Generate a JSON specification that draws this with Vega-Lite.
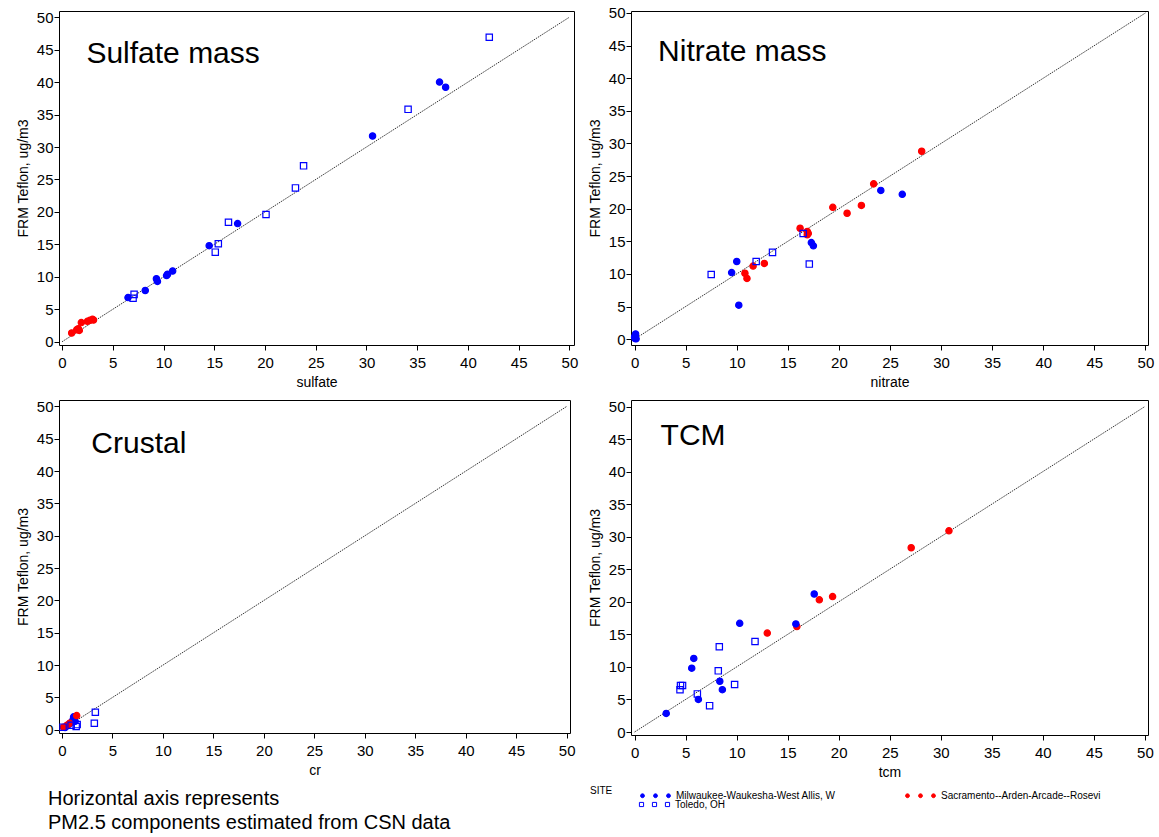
{
  "$schema": "https://vega.github.io/schema/vega-lite/v6.json",
  "background": "white",
  "padding": {"left": 15, "top": 5, "right": 4, "bottom": 2},
  "bounds": "flush",
  "columns": 2,
  "spacing": {"row": 55, "column": 57},
  "config": {
    "view": {"stroke": "black", "strokeWidth": 1},
    "font": "Liberation Sans",
    "axis": {
      "grid": false,
      "domain": false,
      "labelFont": "Liberation Sans",
      "labelFontSize": 15,
      "labelColor": "black",
      "labelFlush": false,
      "labelOverlap": false,
      "titleFont": "Liberation Sans",
      "titleFontSize": 14,
      "titleFontWeight": "normal",
      "titleColor": "black",
      "tickColor": "black",
      "tickWidth": 1,
      "values": [0,1,2,3,4,5,6,7,8,9,10,11,12,13,14,15,16,17,18,19,20,21,22,23,24,25,26,27,28,29,30,31,32,33,34,35,36,37,38,39,40,41,42,43,44,45,46,47,48,49,50],
      "labelExpr": "datum.value % 5 === 0 ? datum.label : ''",
      "tickSize": {"condition": {"test": "datum.value % 5 === 0", "value": 5}, "value": 3}
    },
    "axisX": {"labelPadding": 5, "titlePadding": 5},
    "axisY": {"labelPadding": 1, "titlePadding": 6},
    "legend": {
      "labelFont": "Liberation Sans",
      "labelFontSize": 10,
      "labelColor": "black",
      "titleFont": "Liberation Sans",
      "titleFontSize": 10,
      "titleFontWeight": "normal",
      "titleColor": "black"
    }
  },
  "datasets": {
    "sulfate": [
      {"site": "Toledo, OH", "csn": 42.1, "frm": 46.9},
      {"site": "Toledo, OH", "csn": 34.1, "frm": 35.8},
      {"site": "Toledo, OH", "csn": 23.8, "frm": 27.1},
      {"site": "Toledo, OH", "csn": 23.0, "frm": 23.7},
      {"site": "Toledo, OH", "csn": 20.1, "frm": 19.6},
      {"site": "Toledo, OH", "csn": 16.4, "frm": 18.4},
      {"site": "Toledo, OH", "csn": 15.4, "frm": 15.1},
      {"site": "Toledo, OH", "csn": 15.1, "frm": 13.8},
      {"site": "Toledo, OH", "csn": 7.1, "frm": 7.3},
      {"site": "Toledo, OH", "csn": 7.0, "frm": 6.7},
      {"site": "Milwaukee-Waukesha-West Allis, W", "csn": 37.2, "frm": 40.0},
      {"site": "Milwaukee-Waukesha-West Allis, W", "csn": 37.8, "frm": 39.2},
      {"site": "Milwaukee-Waukesha-West Allis, W", "csn": 30.6, "frm": 31.7},
      {"site": "Milwaukee-Waukesha-West Allis, W", "csn": 17.3, "frm": 18.2},
      {"site": "Milwaukee-Waukesha-West Allis, W", "csn": 14.5, "frm": 14.8},
      {"site": "Milwaukee-Waukesha-West Allis, W", "csn": 10.9, "frm": 10.9},
      {"site": "Milwaukee-Waukesha-West Allis, W", "csn": 10.4, "frm": 10.4},
      {"site": "Milwaukee-Waukesha-West Allis, W", "csn": 10.3, "frm": 10.2},
      {"site": "Milwaukee-Waukesha-West Allis, W", "csn": 9.3, "frm": 9.7},
      {"site": "Milwaukee-Waukesha-West Allis, W", "csn": 9.4, "frm": 9.3},
      {"site": "Milwaukee-Waukesha-West Allis, W", "csn": 8.2, "frm": 7.9},
      {"site": "Milwaukee-Waukesha-West Allis, W", "csn": 6.5, "frm": 6.8},
      {"site": "Sacramento--Arden-Arcade--Rosevi", "csn": 0.95, "frm": 1.35},
      {"site": "Sacramento--Arden-Arcade--Rosevi", "csn": 1.45, "frm": 1.85},
      {"site": "Sacramento--Arden-Arcade--Rosevi", "csn": 1.6, "frm": 2.0},
      {"site": "Sacramento--Arden-Arcade--Rosevi", "csn": 1.7, "frm": 1.75},
      {"site": "Sacramento--Arden-Arcade--Rosevi", "csn": 1.9, "frm": 2.95},
      {"site": "Sacramento--Arden-Arcade--Rosevi", "csn": 2.5, "frm": 3.15},
      {"site": "Sacramento--Arden-Arcade--Rosevi", "csn": 2.75, "frm": 3.3},
      {"site": "Sacramento--Arden-Arcade--Rosevi", "csn": 3.0, "frm": 3.45},
      {"site": "Sacramento--Arden-Arcade--Rosevi", "csn": 3.1, "frm": 3.35}
    ],
    "nitrate": [
      {"site": "Sacramento--Arden-Arcade--Rosevi", "csn": 28.1, "frm": 28.8},
      {"site": "Sacramento--Arden-Arcade--Rosevi", "csn": 23.4, "frm": 23.8},
      {"site": "Sacramento--Arden-Arcade--Rosevi", "csn": 19.4, "frm": 20.2},
      {"site": "Sacramento--Arden-Arcade--Rosevi", "csn": 22.2, "frm": 20.5},
      {"site": "Sacramento--Arden-Arcade--Rosevi", "csn": 20.8, "frm": 19.3},
      {"site": "Sacramento--Arden-Arcade--Rosevi", "csn": 16.2, "frm": 17.0},
      {"site": "Sacramento--Arden-Arcade--Rosevi", "csn": 16.9, "frm": 16.5},
      {"site": "Sacramento--Arden-Arcade--Rosevi", "csn": 17.0, "frm": 16.2},
      {"site": "Sacramento--Arden-Arcade--Rosevi", "csn": 16.9, "frm": 16.0},
      {"site": "Sacramento--Arden-Arcade--Rosevi", "csn": 12.7, "frm": 11.6},
      {"site": "Sacramento--Arden-Arcade--Rosevi", "csn": 11.6, "frm": 11.2},
      {"site": "Sacramento--Arden-Arcade--Rosevi", "csn": 10.8, "frm": 10.1},
      {"site": "Sacramento--Arden-Arcade--Rosevi", "csn": 11.0, "frm": 9.3},
      {"site": "Milwaukee-Waukesha-West Allis, W", "csn": 24.1, "frm": 22.8},
      {"site": "Milwaukee-Waukesha-West Allis, W", "csn": 26.2, "frm": 22.2},
      {"site": "Milwaukee-Waukesha-West Allis, W", "csn": 17.3, "frm": 14.8},
      {"site": "Milwaukee-Waukesha-West Allis, W", "csn": 17.5, "frm": 14.3},
      {"site": "Milwaukee-Waukesha-West Allis, W", "csn": 10.0, "frm": 11.9},
      {"site": "Milwaukee-Waukesha-West Allis, W", "csn": 9.5, "frm": 10.2},
      {"site": "Milwaukee-Waukesha-West Allis, W", "csn": 10.2, "frm": 5.2},
      {"site": "Milwaukee-Waukesha-West Allis, W", "csn": 0.05, "frm": 0.1},
      {"site": "Milwaukee-Waukesha-West Allis, W", "csn": 0.05, "frm": 0.5},
      {"site": "Milwaukee-Waukesha-West Allis, W", "csn": 0.1, "frm": 0.8},
      {"site": "Milwaukee-Waukesha-West Allis, W", "csn": 0.0, "frm": 0.3},
      {"site": "Milwaukee-Waukesha-West Allis, W", "csn": 0.15, "frm": 0.05},
      {"site": "Toledo, OH", "csn": 7.5, "frm": 9.9},
      {"site": "Toledo, OH", "csn": 11.9, "frm": 11.9},
      {"site": "Toledo, OH", "csn": 13.5, "frm": 13.3},
      {"site": "Toledo, OH", "csn": 16.5, "frm": 16.2},
      {"site": "Toledo, OH", "csn": 17.1, "frm": 11.5}
    ],
    "crustal": [
      {"site": "Toledo, OH", "csn": 3.3, "frm": 2.7},
      {"site": "Toledo, OH", "csn": 3.2, "frm": 1.0},
      {"site": "Toledo, OH", "csn": 1.4, "frm": 0.5},
      {"site": "Toledo, OH", "csn": 1.5, "frm": 0.8},
      {"site": "Toledo, OH", "csn": 0.1, "frm": 0.4},
      {"site": "Toledo, OH", "csn": 0.9, "frm": 0.7},
      {"site": "Milwaukee-Waukesha-West Allis, W", "csn": 1.15, "frm": 2.0},
      {"site": "Milwaukee-Waukesha-West Allis, W", "csn": 1.1, "frm": 1.6},
      {"site": "Milwaukee-Waukesha-West Allis, W", "csn": 1.3, "frm": 1.3},
      {"site": "Milwaukee-Waukesha-West Allis, W", "csn": 0.8, "frm": 1.0},
      {"site": "Milwaukee-Waukesha-West Allis, W", "csn": 0.6, "frm": 0.75},
      {"site": "Milwaukee-Waukesha-West Allis, W", "csn": 0.45, "frm": 0.55},
      {"site": "Milwaukee-Waukesha-West Allis, W", "csn": 0.3, "frm": 0.35},
      {"site": "Milwaukee-Waukesha-West Allis, W", "csn": 1.0, "frm": 1.2},
      {"site": "Milwaukee-Waukesha-West Allis, W", "csn": 1.2, "frm": 1.8},
      {"site": "Sacramento--Arden-Arcade--Rosevi", "csn": 1.45, "frm": 2.2},
      {"site": "Sacramento--Arden-Arcade--Rosevi", "csn": 0.15, "frm": 0.4},
      {"site": "Sacramento--Arden-Arcade--Rosevi", "csn": 0.5, "frm": 0.7},
      {"site": "Sacramento--Arden-Arcade--Rosevi", "csn": 0.75, "frm": 1.0}
    ],
    "tcm": [
      {"site": "Sacramento--Arden-Arcade--Rosevi", "csn": 30.8, "frm": 30.9},
      {"site": "Sacramento--Arden-Arcade--Rosevi", "csn": 27.1, "frm": 28.3},
      {"site": "Sacramento--Arden-Arcade--Rosevi", "csn": 19.4, "frm": 20.8},
      {"site": "Sacramento--Arden-Arcade--Rosevi", "csn": 18.1, "frm": 20.3},
      {"site": "Sacramento--Arden-Arcade--Rosevi", "csn": 15.9, "frm": 16.2},
      {"site": "Sacramento--Arden-Arcade--Rosevi", "csn": 13.0, "frm": 15.2},
      {"site": "Milwaukee-Waukesha-West Allis, W", "csn": 17.6, "frm": 21.2},
      {"site": "Milwaukee-Waukesha-West Allis, W", "csn": 15.8, "frm": 16.6},
      {"site": "Milwaukee-Waukesha-West Allis, W", "csn": 10.3, "frm": 16.7},
      {"site": "Milwaukee-Waukesha-West Allis, W", "csn": 5.8, "frm": 11.3},
      {"site": "Milwaukee-Waukesha-West Allis, W", "csn": 5.6, "frm": 9.8},
      {"site": "Milwaukee-Waukesha-West Allis, W", "csn": 8.35, "frm": 7.8},
      {"site": "Milwaukee-Waukesha-West Allis, W", "csn": 8.6, "frm": 6.5},
      {"site": "Milwaukee-Waukesha-West Allis, W", "csn": 6.25, "frm": 5.0},
      {"site": "Milwaukee-Waukesha-West Allis, W", "csn": 3.1, "frm": 2.85},
      {"site": "Toledo, OH", "csn": 11.8, "frm": 13.9},
      {"site": "Toledo, OH", "csn": 8.3, "frm": 13.1},
      {"site": "Toledo, OH", "csn": 8.2, "frm": 9.4},
      {"site": "Toledo, OH", "csn": 9.8, "frm": 7.3},
      {"site": "Toledo, OH", "csn": 4.5, "frm": 7.15},
      {"site": "Toledo, OH", "csn": 4.7, "frm": 7.15},
      {"site": "Toledo, OH", "csn": 4.45, "frm": 6.5},
      {"site": "Toledo, OH", "csn": 6.15, "frm": 5.85},
      {"site": "Toledo, OH", "csn": 7.35, "frm": 4.05}
    ]
  },
  "concat": [
    {
      "width": 515, "height": 334,
      "layer": [
        {"data": {"values": [{}]}, "mark": {"type": "rule", "color": "black", "strokeWidth": 0.8, "strokeDash": [1.5, 1]},
         "encoding": {"x": {"datum": 0, "type": "quantitative"}, "y": {"datum": 0, "type": "quantitative"}, "x2": {"datum": 50}, "y2": {"datum": 50}}},
        {"data": {"name": "sulfate"}, "transform": [{"filter": "datum.site !== 'Toledo, OH'"}],
         "mark": {"type": "point", "size": 40, "strokeWidth": 1.2, "opacity": 1},
         "encoding": {
           "x": {"field": "csn", "type": "quantitative", "scale": {"domain": [-0.3, 50.45], "nice": false, "zero": false}, "axis": {"title": "sulfate"}},
           "y": {"field": "frm", "type": "quantitative", "scale": {"domain": [-0.5, 50.95], "nice": false, "zero": false}, "axis": {"title": "FRM Teflon, ug/m3"}},
           "fill": {"field": "site", "type": "nominal", "scale": {"domain": ["Milwaukee-Waukesha-West Allis, W", "Sacramento--Arden-Arcade--Rosevi"], "range": ["#0000ff", "#ff0000"]}, "legend": {"title": "SITE", "orient": "none", "legendX": 531, "legendY": 771, "titleOrient": "left", "titleAnchor": "middle", "titlePadding": 29, "direction": "horizontal", "columns": 2, "columnPadding": 67, "symbolSize": 676, "symbolType": "M-1.15,0A0.15,0.15,0,1,0,-0.85,0A0.15,0.15,0,1,0,-1.15,0Z M-0.15,0A0.15,0.15,0,1,0,0.15,0A0.15,0.15,0,1,0,-0.15,0Z M0.85,0A0.15,0.15,0,1,0,1.15,0A0.15,0.15,0,1,0,0.85,0Z", "labelOffset": 7, "symbolStrokeWidth": 1}},
           "stroke": {"field": "site", "type": "nominal", "scale": {"domain": ["Milwaukee-Waukesha-West Allis, W", "Sacramento--Arden-Arcade--Rosevi"], "range": ["#0000ff", "#ff0000"]}, "legend": {"title": "SITE", "orient": "none", "legendX": 531, "legendY": 771, "titleOrient": "left", "titleAnchor": "middle", "titlePadding": 29, "direction": "horizontal", "columns": 2, "columnPadding": 67, "symbolSize": 676, "symbolType": "M-1.15,0A0.15,0.15,0,1,0,-0.85,0A0.15,0.15,0,1,0,-1.15,0Z M-0.15,0A0.15,0.15,0,1,0,0.15,0A0.15,0.15,0,1,0,-0.15,0Z M0.85,0A0.15,0.15,0,1,0,1.15,0A0.15,0.15,0,1,0,0.85,0Z", "labelOffset": 7, "symbolStrokeWidth": 1}}
         }},
        {"data": {"name": "sulfate"}, "transform": [{"filter": "datum.site === 'Toledo, OH'"}],
         "mark": {"type": "point", "shape": "square", "size": 40, "strokeWidth": 1.2, "filled": false, "fill": "transparent", "stroke": "#0000ff"},
         "encoding": {
           "x": {"field": "csn", "type": "quantitative", "axis": {"title": "sulfate"}},
           "y": {"field": "frm", "type": "quantitative", "axis": {"title": "FRM Teflon, ug/m3"}},
           "opacity": {"field": "site", "type": "nominal", "scale": {"domain": ["Toledo, OH"], "range": [1]}, "legend": {"title": null, "orient": "none", "legendX": 582, "legendY": 780, "symbolSize": 676, "symbolType": "M-1.16,-0.16L-0.84,-0.16L-0.84,0.16L-1.16,0.16Z M-0.16,-0.16L0.16,-0.16L0.16,0.16L-0.16,0.16Z M0.84,-0.16L1.16,-0.16L1.16,0.16L0.84,0.16Z", "labelOffset": 7, "symbolStrokeWidth": 1, "symbolStrokeColor": "#0000ff", "symbolFillColor": "transparent"}}
         }},
        {"data": {"values": [{}]}, "mark": {"type": "text", "fontSize": 30, "font": "Liberation Sans", "color": "black", "align": "left", "baseline": "middle"},
         "encoding": {"x": {"datum": 2.4, "type": "quantitative"}, "y": {"datum": 44.4, "type": "quantitative"}, "text": {"value": "Sulfate mass"}}}
      ]
    },
    {
      "width": 517, "height": 334,
      "layer": [
        {"data": {"values": [{}]}, "mark": {"type": "rule", "color": "black", "strokeWidth": 0.8, "strokeDash": [1.5, 1]},
         "encoding": {"x": {"datum": 0, "type": "quantitative"}, "y": {"datum": 0, "type": "quantitative"}, "x2": {"datum": 50}, "y2": {"datum": 50}}},
        {"data": {"name": "nitrate"}, "transform": [{"filter": "datum.site !== 'Toledo, OH'"}],
         "mark": {"type": "point", "size": 40, "strokeWidth": 1.2, "opacity": 1},
         "encoding": {
           "x": {"field": "csn", "type": "quantitative", "scale": {"domain": [-0.35, 50.25], "nice": false, "zero": false}, "axis": {"title": "nitrate"}},
           "y": {"field": "frm", "type": "quantitative", "scale": {"domain": [-0.9, 50.3], "nice": false, "zero": false}, "axis": {"title": "FRM Teflon, ug/m3"}},
           "fill": {"field": "site", "type": "nominal"},
           "stroke": {"field": "site", "type": "nominal"}
         }},
        {"data": {"name": "nitrate"}, "transform": [{"filter": "datum.site === 'Toledo, OH'"}],
         "mark": {"type": "point", "shape": "square", "size": 40, "strokeWidth": 1.2, "filled": false, "fill": "transparent", "stroke": "#0000ff"},
         "encoding": {
           "x": {"field": "csn", "type": "quantitative", "axis": {"title": "nitrate"}},
           "y": {"field": "frm", "type": "quantitative", "axis": {"title": "FRM Teflon, ug/m3"}},
           "opacity": {"field": "site", "type": "nominal"}
         }},
        {"data": {"values": [{}]}, "mark": {"type": "text", "fontSize": 30, "font": "Liberation Sans", "color": "black", "align": "left", "baseline": "middle"},
         "encoding": {"x": {"datum": 2.3, "type": "quantitative"}, "y": {"datum": 44.0, "type": "quantitative"}, "text": {"value": "Nitrate mass"}}}
      ]
    },
    {
      "width": 511, "height": 333,
      "title": {"text": ["Horizontal axis represents", "PM2.5 components estimated from CSN data"], "orient": "bottom", "anchor": "start", "frame": "group", "font": "Liberation Sans", "fontSize": 20, "fontWeight": "normal", "color": "black", "lineHeight": 24, "offset": 12, "dx": -11},
      "layer": [
        {"data": {"values": [{}]}, "mark": {"type": "rule", "color": "black", "strokeWidth": 0.8, "strokeDash": [1.5, 1]},
         "encoding": {"x": {"datum": 0, "type": "quantitative"}, "y": {"datum": 0, "type": "quantitative"}, "x2": {"datum": 50}, "y2": {"datum": 50}}},
        {"data": {"name": "crustal"}, "transform": [{"filter": "datum.site !== 'Toledo, OH'"}],
         "mark": {"type": "point", "size": 40, "strokeWidth": 1.2, "opacity": 1},
         "encoding": {
           "x": {"field": "csn", "type": "quantitative", "scale": {"domain": [-0.3, 50.33], "nice": false, "zero": false}, "axis": {"title": "cr"}},
           "y": {"field": "frm", "type": "quantitative", "scale": {"domain": [-0.5, 51.0], "nice": false, "zero": false}, "axis": {"title": "FRM Teflon, ug/m3"}},
           "fill": {"field": "site", "type": "nominal"},
           "stroke": {"field": "site", "type": "nominal"}
         }},
        {"data": {"name": "crustal"}, "transform": [{"filter": "datum.site === 'Toledo, OH'"}],
         "mark": {"type": "point", "shape": "square", "size": 40, "strokeWidth": 1.2, "filled": false, "fill": "transparent", "stroke": "#0000ff"},
         "encoding": {
           "x": {"field": "csn", "type": "quantitative", "axis": {"title": "cr"}},
           "y": {"field": "frm", "type": "quantitative", "axis": {"title": "FRM Teflon, ug/m3"}},
           "opacity": {"field": "site", "type": "nominal"}
         }},
        {"data": {"values": [{}]}, "mark": {"type": "text", "fontSize": 30, "font": "Liberation Sans", "color": "black", "align": "left", "baseline": "middle"},
         "encoding": {"x": {"datum": 2.9, "type": "quantitative"}, "y": {"datum": 44.2, "type": "quantitative"}, "text": {"value": "Crustal"}}}
      ]
    },
    {
      "width": 517, "height": 335,
      "layer": [
        {"data": {"values": [{}]}, "mark": {"type": "rule", "color": "black", "strokeWidth": 0.8, "strokeDash": [1.5, 1]},
         "encoding": {"x": {"datum": 0, "type": "quantitative"}, "y": {"datum": 0, "type": "quantitative"}, "x2": {"datum": 50}, "y2": {"datum": 50}}},
        {"data": {"name": "tcm"}, "transform": [{"filter": "datum.site !== 'Toledo, OH'"}],
         "mark": {"type": "point", "size": 40, "strokeWidth": 1.2, "opacity": 1},
         "encoding": {
           "x": {"field": "csn", "type": "quantitative", "scale": {"domain": [-0.35, 50.3], "nice": false, "zero": false}, "axis": {"title": "tcm"}},
           "y": {"field": "frm", "type": "quantitative", "scale": {"domain": [-0.46, 51.0], "nice": false, "zero": false}, "axis": {"title": "FRM Teflon, ug/m3"}},
           "fill": {"field": "site", "type": "nominal"},
           "stroke": {"field": "site", "type": "nominal"}
         }},
        {"data": {"name": "tcm"}, "transform": [{"filter": "datum.site === 'Toledo, OH'"}],
         "mark": {"type": "point", "shape": "square", "size": 40, "strokeWidth": 1.2, "filled": false, "fill": "transparent", "stroke": "#0000ff"},
         "encoding": {
           "x": {"field": "csn", "type": "quantitative", "axis": {"title": "tcm"}},
           "y": {"field": "frm", "type": "quantitative", "axis": {"title": "FRM Teflon, ug/m3"}},
           "opacity": {"field": "site", "type": "nominal"}
         }},
        {"data": {"values": [{}]}, "mark": {"type": "text", "fontSize": 30, "font": "Liberation Sans", "color": "black", "align": "left", "baseline": "middle"},
         "encoding": {"x": {"datum": 2.55, "type": "quantitative"}, "y": {"datum": 45.4, "type": "quantitative"}, "text": {"value": "TCM"}}}
      ]
    }
  ]
}
